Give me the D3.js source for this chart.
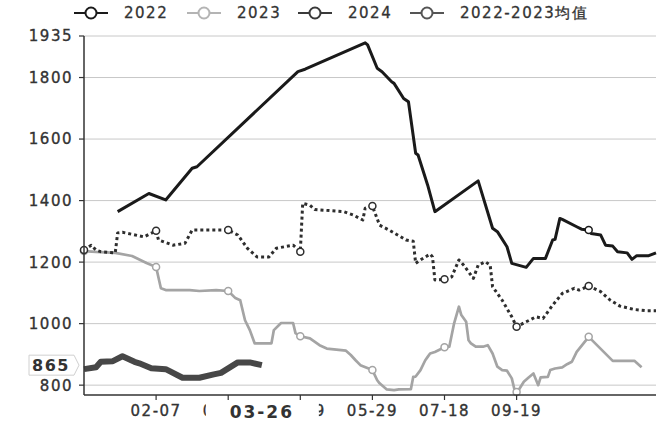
<!DOCTYPE html>
<html>
<head>
<meta charset="utf-8">
<script src="https://cdn.jsdelivr.net/npm/d3@7/dist/d3.min.js"></script>
<style>
  body { margin: 0; background: #fff; }
  text { font-family: "DejaVu Sans", sans-serif; }
</style>
</head>
<body>
<div id="d3"><svg id="chart"></svg></div>
<script>
// ---- data (x = trading-day index on the category axis, value) ----
const tickIndex  = [30, 60, 90, 120, 150, 180];
const tickLabels = ["02-07", "03-12", "04-19", "05-29", "07-18", "09-19"];
const yTicks = [800, 1000, 1200, 1400, 1600, 1800, 1935];
const seriesNames = ["2022", "2023", "2024", "2022-2023均值"];

const s2022 = [[14,1364],[27,1423],[34,1402],[45,1505],[47,1510],[89,1819],[92,1827],[117,1913],[118,1906],
  [122,1830],[124,1819],[128,1786],[129,1781],[133,1732],[135,1721],[138,1554],[139,1548],[143,1450],[146,1364],
  [164,1464],[170,1310],[172,1299],[176,1250],[178,1196],[184,1183],[187,1212],[192,1212],[195,1272],[196,1274],
  [198,1342],[199,1339],[205,1315],[207,1307],[210,1304],[211,1293],[215,1288],[217,1255],[220,1252],[222,1234],
  [226,1230],[228,1209],[230,1221],[235,1221],[238,1230]];

const s2023 = [[0,1236],[5,1233],[13,1230],[20,1220],[26,1197],[30,1184],[32,1115],[34,1109],[44,1109],[48,1106],
  [55,1109],[60,1106],[63,1083],[65,1076],[67,1011],[69,979],[71,936],[78,936],[79,979],[82,1002],[87,1002],
  [88,969],[90,959],[94,952],[98,930],[101,919],[109,912],[111,898],[113,881],[115,865],[120,849],[122,816],
  [123,806],[126,786],[129,784],[131,786],[136,787],[137,827],[138,828],[140,849],[142,881],[143,892],[144,903],
  [146,908],[150,923],[152,925],[154,1001],[156,1055],[157,1028],[159,1006],[160,946],[161,936],[163,925],
  [166,925],[168,930],[170,903],[172,860],[174,849],[176,847],[178,822],[179,789],[180,778],[181,786],[183,811],
  [185,825],[187,838],[189,800],[190,825],[193,827],[194,849],[196,854],[199,858],[201,868],[203,876],[205,908],
  [210,957],[220,879],[229,879],[232,858]];

const s2024 = [[0,852],[5,858],[7,876],[12,878],[16,894],[21,876],[23,871],[28,855],[34,852],[41,824],[48,824],
  [54,835],[57,840],[64,874],[69,874],[74,865]];

const sAvg = [[0,1239],[3,1255],[5,1239],[7,1234],[13,1230],[14,1295],[16,1297],[25,1282],[30,1302],[31,1272],
  [37,1255],[42,1261],[45,1304],[60,1304],[64,1288],[68,1245],[72,1217],[77,1217],[80,1245],[87,1255],[90,1234],
  [91,1391],[94,1385],[96,1371],[108,1364],[112,1353],[116,1337],[117,1375],[120,1382],[123,1320],[127,1304],
  [134,1272],[137,1268],[138,1196],[140,1207],[144,1226],[145,1217],[146,1142],[150,1144],[153,1152],[156,1207],
  [158,1190],[162,1147],[164,1190],[167,1201],[169,1190],[170,1120],[174,1076],[178,1022],[180,990],[184,1006],
  [188,1022],[191,1017],[195,1060],[199,1098],[204,1115],[206,1109],[210,1122],[215,1104],[219,1076],[223,1057],
  [229,1046],[234,1042],[238,1042]];

const pointerIndex = 74, pointerDate = "03-26", pointerValue = 865;

// ---- layout ----
const width = 667, height = 421;
const margin = {left: 84, right: 11, top: 36, bottom: 26};

const svg = d3.select("#chart").attr("width", width).attr("height", height);

let x = d3.scaleLinear().domain([0, 238]).range([margin.left, width - margin.right]);
let y = d3.scaleLinear().domain([768, 1935]).range([height - margin.bottom, margin.top]);

// grid
svg.append("g").selectAll("line").data(yTicks).enter().append("line")
  .attr("x1", x(0)).attr("x2", x(238))
  .attr("y1", d => y(d)).attr("y2", d => y(d))
  .attr("stroke", "#c8c8c8").attr("stroke-width", 1);

let line = d3.line().x(d => x(d[0])).y(d => y(d[1]));

let series = [
  {data: s2023, color: "#a4a4a4", w: 2.7, dash: null, marks: true},
  {data: sAvg,  color: "#2e2e2e", w: 3, dash: "3,3", marks: true},
  {data: s2022, color: "#1a1a1a", w: 3, dash: null, marks: true},
  {data: s2024, color: "#474747", w: 6, dash: null, marks: false}
];

series.forEach(function(s) {
  svg.append("path").datum(s.data)
    .attr("d", line)
    .attr("fill", "none")
    .attr("stroke", s.color)
    .attr("stroke-width", s.w)
    .attr("stroke-linejoin", "round")
    .attr("stroke-dasharray", s.dash);
  if (s.marks) {
    svg.append("g").selectAll("circle")
      .data(s.data.filter(d => d[0] % 30 === 0))
      .enter().append("circle")
      .attr("cx", d => x(d[0])).attr("cy", d => y(d[1]))
      .attr("r", 3.5)
      .attr("fill", "#fff")
      .attr("stroke", s.color)
      .attr("stroke-width", 1.5);
  }
});

// axes
let axisColor = "#333";
svg.append("line").attr("x1", x(0)).attr("x2", x(0)).attr("y1", y(1935)).attr("y2", y(768))
  .attr("stroke", axisColor).attr("stroke-width", 1.5);
svg.append("line").attr("x1", x(0)).attr("x2", x(238)).attr("y1", y(768)).attr("y2", y(768))
  .attr("stroke", axisColor).attr("stroke-width", 1.5);

let yAxis = svg.append("g");
yAxis.selectAll("line").data(yTicks).enter().append("line")
  .attr("x1", x(0) - 5).attr("x2", x(0))
  .attr("y1", d => y(d)).attr("y2", d => y(d))
  .attr("stroke", axisColor).attr("stroke-width", 1.2);
yAxis.selectAll("text").data(yTicks).enter().append("text")
  .attr("x", x(0) - 11).attr("y", d => y(d)).attr("dy", "0.36em")
  .attr("text-anchor", "end")
  .style("font-size", "15px").style("letter-spacing", "1.5px")
  .attr("fill", "#333").attr("stroke", "#333").attr("stroke-width", 0.35)
  .text(d => d);

let xAxis = svg.append("g");
xAxis.selectAll("line").data(tickIndex).enter().append("line")
  .attr("x1", d => x(d)).attr("x2", d => x(d))
  .attr("y1", y(768)).attr("y2", y(768) + 5)
  .attr("stroke", axisColor).attr("stroke-width", 1.2);
xAxis.selectAll("text").data(tickIndex).enter().append("text")
  .attr("x", d => x(d)).attr("y", 416)
  .attr("text-anchor", "middle")
  .style("font-size", "15px").style("letter-spacing", "1.5px")
  .attr("fill", "#333").attr("stroke", "#333").attr("stroke-width", 0.35)
  .text((d, i) => tickLabels[i]);

// axis pointer labels
let px = x(pointerIndex);
svg.append("rect").attr("x", px - 56).attr("y", 401).attr("width", 113).attr("height", 20).attr("fill", "#fff");
svg.append("text").attr("x", px).attr("y", 418).attr("text-anchor", "middle")
  .style("font-size", "17px").style("font-weight", "bold").style("letter-spacing", "2px")
  .attr("fill", "#333").text(pointerDate);

let py = y(pointerValue);
svg.append("path")
  .attr("d", "M" + 29 + "," + (py - 10) + "H74L79," + py + "L74," + (py + 10) + "H29Z")
  .attr("fill", "#fff").attr("stroke", "#d0d0d0").attr("stroke-width", 1);
svg.append("text").attr("x", 51).attr("y", py).attr("dy", "0.36em").attr("text-anchor", "middle")
  .style("font-size", "16px").style("font-weight", "bold").style("letter-spacing", "1.5px")
  .attr("fill", "#333").text(pointerValue);

// legend
let legendIcon = [91, 204, 315, 427];
let legendColor = ["#1a1a1a", "#b4b4b4", "#3a3a3a", "#555"];
let legend = svg.append("g");
seriesNames.forEach(function(name, i) {
  let g = legend.append("g");
  g.append("line").attr("x1", legendIcon[i] - 17).attr("x2", legendIcon[i] + 17)
    .attr("y1", 13).attr("y2", 13).attr("stroke", legendColor[i]).attr("stroke-width", 2);
  g.append("circle").attr("cx", legendIcon[i]).attr("cy", 13).attr("r", 5.5)
    .attr("fill", "#fff").attr("stroke", legendColor[i]).attr("stroke-width", 2);
  g.append("text").attr("x", legendIcon[i] + 33).attr("y", 13).attr("dy", "0.36em")
    .style("font-size", "15px").style("letter-spacing", "1.5px")
    .attr("fill", "#333").attr("stroke", "#333").attr("stroke-width", 0.3)
    .text(name);
});
</script>
</body>
</html>
